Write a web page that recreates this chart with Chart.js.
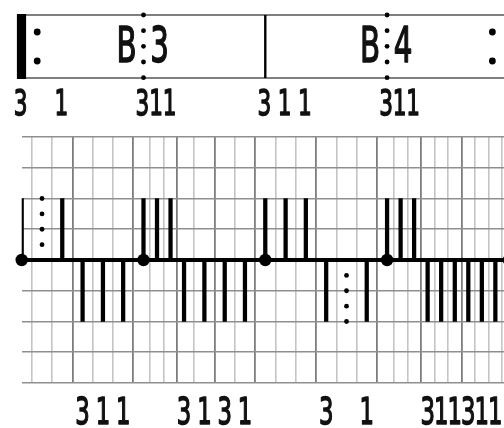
<!DOCTYPE html>
<html><head><meta charset="utf-8">
<script src="https://cdn.jsdelivr.net/npm/chart.js@4/dist/chart.umd.min.js"></script>
<style>html,body{margin:0;padding:0;background:#fff;overflow:hidden}canvas{display:block}</style>
</head><body>
<canvas id="c" width="504" height="428"></canvas>
<script>
// Beat onsets (big dots on the zero line)
const beats = [0, 1, 2, 3, 4];
// Upward strokes (above the line) and their top digits
const upBars = [0, 0.333, 1, 1.111, 1.222, 2, 2.167, 2.333, 3, 3.111, 3.222];
const upLabels = ['3', '1', '3', '1', '1', '3', '1', '1', '3', '1', '1'];
const upValue = 2;
// Downward strokes (below the line) and their bottom digits
const downBars = [0.5, 0.667, 0.833, 1.333, 1.5, 1.667, 1.833, 2.5, 2.833, 3.333, 3.444, 3.556, 3.667, 3.778, 3.889];
const downLabels = ['3', '1', '1', '3', '1', '3', '1', '3', '1', '3', '1', '1', '3', '1', '1'];
const downValue = -2;
// Dotted rests
const upRestX = 0.167;
const upRestY = [0.5, 1, 1.5, 2];
const downRestX = 2.667;
const downRestY = [-0.5, -1, -1.5, -2];
// Vertical grid subdivisions
const majorGrid = [0, 0.5, 1, 1.333, 1.667, 2, 2.5, 3, 3.333, 3.667, 4];
const minorGrid = [0.167, 0.333, 0.667, 0.833, 1.111, 1.222, 1.5, 1.833, 2.167, 2.333, 2.667, 2.833, 3.111, 3.222, 3.444, 3.556, 3.778, 3.889];
// Section markers in the top box
const sectionBeats = [1, 3];
const sectionLabels = [['B', '3'], ['B', '4']];
const barlineBeats = [2];

const near = (arr, v) => arr.some(a => Math.abs(a - v) < 0.01);
const tv = c => (c && c.tick) ? c.tick.value : NaN;

function txt(ctx, t, x, y, size, sx) {
  ctx.save();
  ctx.translate(x, y);
  ctx.scale(sx, 1);
  ctx.font = 'normal ' + size + 'px "DejaVu Sans", sans-serif';
  ctx.textAlign = 'center';
  ctx.textBaseline = 'alphabetic';
  ctx.fillStyle = '#111';
  ctx.strokeStyle = '#111';
  ctx.lineWidth = 1.6;
  ctx.lineJoin = 'round';
  ctx.fillText(t, 0, 0);
  ctx.strokeText(t, 0, 0);
  ctx.restore();
}

const notation = {
  id: 'notation',
  afterDraw(chart) {
    const ctx = chart.ctx;
    const xs = chart.scales.x;
    const px = v => xs.getPixelForValue(v);
    const top = 15, bot = 78;
    ctx.save();
    ctx.strokeStyle = '#555';
    ctx.lineWidth = 1.6;
    ctx.beginPath();
    ctx.moveTo(px(0), top); ctx.lineTo(510, top);
    ctx.moveTo(px(0), bot); ctx.lineTo(510, bot);
    ctx.stroke();
    ctx.fillStyle = '#000';
    ctx.fillRect(px(0) - 4.8, top - 1, 9.2, bot - top + 2);
    [32, 61].forEach(y => { ctx.beginPath(); ctx.arc(px(0) + 15.5, y, 3.4, 0, Math.PI * 2); ctx.fill(); });
    [32, 61].forEach(y => { ctx.beginPath(); ctx.arc(px(4) - 16.5, y, 3.4, 0, Math.PI * 2); ctx.fill(); });
    ctx.strokeStyle = '#000';
    ctx.lineWidth = 2.4;
    barlineBeats.forEach(b => {
      ctx.beginPath(); ctx.moveTo(px(b), top); ctx.lineTo(px(b), bot); ctx.stroke();
    });
    sectionBeats.forEach((b, i) => {
      const x = px(b);
      [15, 30.7, 46.3, 62, 77.7].forEach(y => { ctx.beginPath(); ctx.arc(x, y, 2.4, 0, Math.PI * 2); ctx.fill(); });
      txt(ctx, sectionLabels[i][0], x - 17, 62, 49, 0.6);
      txt(ctx, sectionLabels[i][1], x + 16, 62, 49, 0.6);
    });
    upBars.forEach((v, i) => txt(ctx, upLabels[i], px(v) - 1, 115, 36, 0.6));
    downBars.forEach((v, i) => txt(ctx, downLabels[i], px(v), 424, 38, 0.6));
    ctx.restore();
  }
};

new Chart(document.getElementById('c'), {
  type: 'bar',
  data: {
    datasets: [
      {
        type: 'bar',
        data: upBars.map(x => ({ x, y: upValue })).concat(downBars.map(x => ({ x, y: downValue }))),
        backgroundColor: '#000',
        borderWidth: 0,
        barThickness: 3.6,
        grouped: false,
        order: 2
      },
      {
        type: 'scatter',
        data: upRestY.map(y => ({ x: upRestX, y })).concat(downRestY.map(y => ({ x: downRestX, y }))),
        pointRadius: 2.4,
        pointBackgroundColor: '#000',
        pointBorderWidth: 0,
        order: 1
      },
      {
        type: 'scatter',
        data: beats.map(x => ({ x, y: 0 })),
        pointRadius: 6.2,
        pointBackgroundColor: '#000',
        pointBorderWidth: 0,
        clip: false,
        order: 0
      }
    ]
  },
  options: {
    responsive: false,
    animation: false,
    devicePixelRatio: 1,
    layout: { autoPadding: false, padding: { top: 137, bottom: 45, left: 21.7, right: 0 } },
    plugins: { legend: { display: false }, tooltip: { enabled: false } },
    scales: {
      x: {
        type: 'linear',
        min: 0,
        max: 3.96,
        offset: false,
        afterBuildTicks: s => {
          s.ticks = majorGrid.concat(minorGrid).filter(v => v <= s.max).sort((a, b) => a - b).map(v => ({ value: v }));
        },
        ticks: { display: false },
        grid: {
          drawTicks: false,
          color: c => near(majorGrid, tv(c)) ? '#7d7d7d' : '#c4c4c4',
          lineWidth: c => near(majorGrid, tv(c)) ? 1.8 : 1.6
        },
        border: { display: false }
      },
      y: {
        type: 'linear',
        min: -4,
        max: 4,
        ticks: { display: false, stepSize: 1 },
        grid: {
          drawTicks: false,
          color: c => tv(c) === 0 ? '#000' : '#8f8f8f',
          lineWidth: c => tv(c) === 0 ? 4 : 1.6
        },
        border: { display: false }
      }
    }
  },
  plugins: [notation]
});
</script>
</body></html>
